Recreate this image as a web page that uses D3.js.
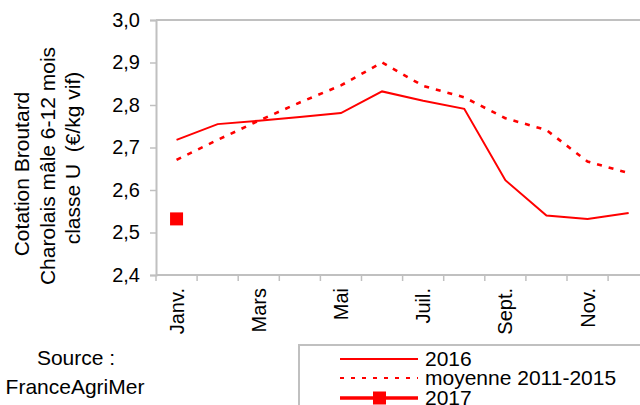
<!DOCTYPE html>
<html>
<head>
<meta charset="utf-8">
<script src="https://cdn.jsdelivr.net/npm/d3@7"></script>
<style>
  body { margin: 0; background: #fff; }
  text { font-family: "Liberation Sans", Arial, sans-serif; fill: #000; }
</style>
</head>
<body>
<div id="chart"></div>
<script>
const months = ["Janv.", "Févr.", "Mars", "Avr.", "Mai", "Juin", "Juil.", "Août", "Sept.", "Oct.", "Nov.", "Déc."];
const shownMonths = ["Janv.", "Mars", "Mai", "Juil.", "Sept.", "Nov."];
const values2016 = [2.718, 2.755, 2.763, 2.772, 2.781, 2.832, 2.810, 2.791, 2.623, 2.540, 2.532, 2.546];
const valuesMoyenne = [2.671, 2.718, 2.763, 2.806, 2.846, 2.900, 2.845, 2.818, 2.769, 2.741, 2.667, 2.640];
const values2017 = [2.532];
const yTicks = [2.4, 2.5, 2.6, 2.7, 2.8, 2.9, 3.0];

const width = 640, height = 405;
const plotLeft = 156, plotTop = 20, plotBottom = 275;
const bandWidth = 41.1;

const svg = d3.select("#chart")
    .append("svg")
        .attr("width", width)
        .attr("height", height);

const x = d3.scaleBand()
    .domain(months)
    .range([plotLeft, plotLeft + bandWidth * months.length]);

const y = d3.scaleLinear()
    .domain([2.4, 3.0])
    .range([plotBottom, plotTop]);

const axisColor = "#c0c0c0";
const red = "#ff0000";

// top frame line
svg.append("line")
    .attr("x1", plotLeft).attr("x2", width)
    .attr("y1", plotTop).attr("y2", plotTop)
    .attr("stroke", axisColor).attr("stroke-width", 2);

// y axis
const yAxis = svg.append("g")
    .attr("transform", `translate(${plotLeft},0)`)
    .call(d3.axisLeft(y).tickValues(yTicks).tickSize(6).tickPadding(10)
        .tickFormat(d => d3.format(".1f")(d).replace(".", ",")));
yAxis.select(".domain").attr("stroke", axisColor).attr("stroke-width", 2);
yAxis.selectAll(".tick line").attr("stroke", axisColor).attr("stroke-width", 1.5);
yAxis.selectAll(".tick text")
    .style("font-size", "20px")
    .style("font-family", "'Liberation Sans', Arial, sans-serif");

// x axis (ticks at category boundaries)
const xg = svg.append("g").attr("transform", `translate(0,${plotBottom})`);
xg.append("line")
    .attr("x1", plotLeft).attr("x2", width)
    .attr("stroke", axisColor).attr("stroke-width", 2);
xg.selectAll(".xtick")
    .data(months)
    .join("line")
        .attr("class", "xtick")
        .attr("x1", d => x(d)).attr("x2", d => x(d))
        .attr("y1", 0).attr("y2", 6)
        .attr("stroke", axisColor).attr("stroke-width", 1.5);
xg.selectAll(".xlabel")
    .data(shownMonths)
    .join("text")
        .attr("class", "xlabel")
        .attr("transform", d => `translate(${x(d) + x.bandwidth() / 2 + 7},13) rotate(-90)`)
        .attr("text-anchor", "end")
        .style("font-size", "20px")
        .text(d => d);

const line = d3.line()
    .x((d, i) => x(months[i]) + x.bandwidth() / 2)
    .y(d => y(d));

svg.append("path")
    .datum(valuesMoyenne)
    .attr("d", line)
    .attr("fill", "none")
    .attr("stroke", red)
    .attr("stroke-width", 2.6)
    .attr("stroke-dasharray", "5,7");

svg.append("path")
    .datum(values2016)
    .attr("d", line)
    .attr("fill", "none")
    .attr("stroke", red)
    .attr("stroke-width", 2);

svg.selectAll(".m2017")
    .data(values2017)
    .join("rect")
        .attr("class", "m2017")
        .attr("x", (d, i) => x(months[i]) + x.bandwidth() / 2 - 6.5)
        .attr("y", d => y(d) - 6.5)
        .attr("width", 13).attr("height", 13)
        .attr("fill", red);

// y title
const yTitle = [
    { text: "Cotation Broutard", x: 29, y: 174 },
    { text: "Charolais mâle 6-12 mois", x: 55, y: 166 },
    { text: "classe U  (€/kg vif)", x: 80, y: 158 }
];
svg.selectAll(".ytitle")
    .data(yTitle)
    .join("text")
        .attr("class", "ytitle")
        .attr("transform", d => `translate(${d.x},${d.y}) rotate(-90)`)
        .attr("text-anchor", "middle")
        .style("font-size", "21px")
        .style("white-space", "pre")
        .text(d => d.text);

// source
svg.append("text").attr("x", 76).attr("y", 365).attr("text-anchor", "middle")
    .style("font-size", "21px").text("Source :");
svg.append("text").attr("x", 75).attr("y", 394).attr("text-anchor", "middle")
    .style("font-size", "21px").text("FranceAgriMer");

// legend
svg.append("rect")
    .attr("x", 299).attr("y", 345)
    .attr("width", 360).attr("height", 80)
    .attr("fill", "#fff")
    .attr("stroke", axisColor).attr("stroke-width", 2);

const legendItems = [
    { label: "2016", y: 359, width: 2, dash: null, marker: false },
    { label: "moyenne 2011-2015", y: 378, width: 2.2, dash: "4,7", marker: false },
    { label: "2017", y: 398, width: 3.5, dash: null, marker: true }
];
const lg = svg.selectAll(".legend")
    .data(legendItems)
    .join("g")
        .attr("class", "legend")
        .attr("transform", d => `translate(0,${d.y})`);
lg.append("line")
    .attr("x1", 340).attr("x2", 418)
    .attr("stroke", red)
    .attr("stroke-width", d => d.width)
    .attr("stroke-dasharray", d => d.dash);
lg.filter(d => d.marker).append("rect")
    .attr("x", 373).attr("y", -6.5)
    .attr("width", 13).attr("height", 13)
    .attr("fill", red);
lg.append("text")
    .attr("x", 425).attr("y", 7)
    .style("font-size", "21px")
    .text(d => d.label);
</script>
</body>
</html>
